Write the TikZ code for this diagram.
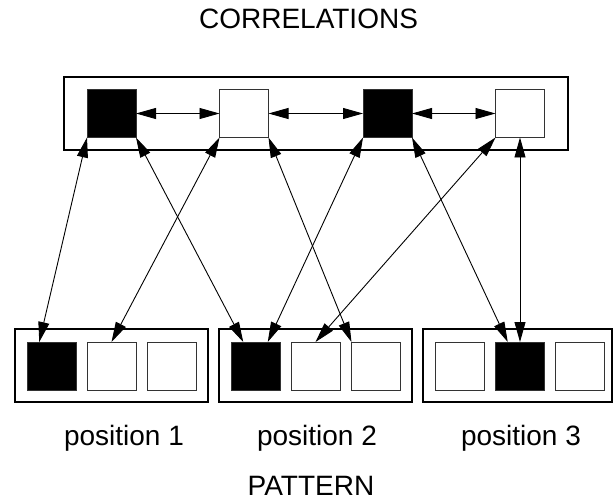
\documentclass[tikz,border=0pt]{standalone}
\usepackage{fontspec}
\setmainfont{Liberation Sans}
\usetikzlibrary{arrows.meta,calc}
\tikzset{
  outerbox/.style={draw=black, line width=2pt, fill=none, inner sep=0pt, outer sep=0pt},
  sqw/.style={draw=black!80, line width=1pt, fill=white, inner sep=0pt, outer sep=0pt, minimum width=49pt, minimum height=48pt},
  sqb/.style={sqw, fill=black},
  conn/.style={line width=0.9pt, {Triangle[length=20pt,width=11pt]}-{Triangle[length=20pt,width=11pt]}},
  lbl/.style={font=\fontsize{28pt}{32pt}\selectfont, anchor=base, inner sep=0pt}
}
\begin{document}
\begin{tikzpicture}[x=1pt,y=-1pt]
\useasboundingbox (0,0) rectangle (613,500);
% titles
\node[lbl] (corr) at (308.5,29) {CORRELATIONS};
\node[lbl] (patt) at (311,495) {PATTERN};
% top box
\node[outerbox, minimum width=504pt, minimum height=73pt] (top) at (316,113.5) {};
\node[sqb] (t1) at (111.5,113.5) {};
\node[sqw] (t2) at (244,113.5) {};
\node[sqb] (t3) at (387.5,113.5) {};
\node[sqw] (t4) at (520,113.5) {};
% bottom boxes
\node[outerbox, minimum width=193pt, minimum height=73pt] (p1) at (111.5,365.5) {};
\node[outerbox, minimum width=193pt, minimum height=73pt] (p2) at (315.5,365.5) {};
\node[outerbox, minimum width=188.5pt, minimum height=73pt] (p3) at (517.25,365.5) {};
\node[sqb] (b11) at (51.5,366) {};
\node[sqw] (b12) at (111.5,366) {};
\node[sqw] (b13) at (172,366) {};
\node[sqb] (b21) at (255.5,366) {};
\node[sqw] (b22) at (315.5,366) {};
\node[sqw] (b23) at (376,366) {};
\node[sqw] (b31) at (459.5,366) {};
\node[sqb] (b32) at (520,366) {};
\node[sqw] (b33) at (580,366) {};
% labels
\node[lbl] (l1) at (124,445) {position 1};
\node[lbl] (l2) at (317,445) {position 2};
\node[lbl] (l3) at (521,445) {position 3};
% horizontal connectors
\draw[conn] (t1.east) -- (t2.west);
\draw[conn] (t2.east) -- (t3.west);
\draw[conn] (t3.east) -- (t4.west);
% diagonal connectors
\draw[conn] (t1.south west) -- ($(b11.north west)!0.25!(b11.north east)$);
\draw[conn] (t1.south east) -- ($(b21.north west)!0.25!(b21.north east)$);
\draw[conn] (t2.south west) -- (b12.north);
\draw[conn] (t2.south east) -- (b23.north west);
\draw[conn] (t3.south west) -- ($(b21.north west)!0.75!(b21.north east)$);
\draw[conn] (t3.south east) -- ($(b32.north west)!0.25!(b32.north east)$);
\draw[conn] (t4.south west) -- (b22.north);
\draw[conn] (t4.south) -- (b32.north);
\end{tikzpicture}
\end{document}
